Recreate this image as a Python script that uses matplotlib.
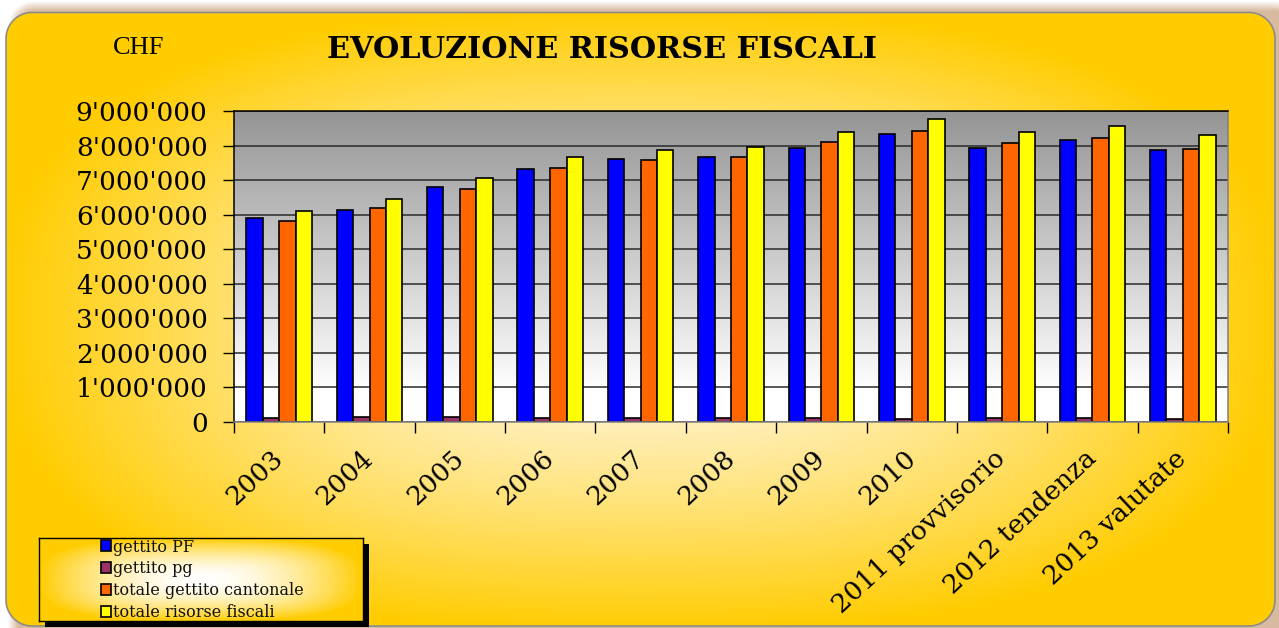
import numpy as np
import matplotlib
matplotlib.use("Agg")
import matplotlib.pyplot as plt
from matplotlib.ticker import FuncFormatter, FixedLocator
from matplotlib.patches import Rectangle

# ---------------- data ----------------
categories = ['2003', '2004', '2005', '2006', '2007', '2008', '2009', '2010',
              '2011 provvisorio', '2012 tendenza', '2013 valutate']
gettito_pf = [5910000, 6130000, 6790000, 7310000, 7620000, 7680000, 7940000,
              8340000, 7940000, 8170000, 7870000]
gettito_pg = [125000, 150000, 145000, 120000, 125000, 130000, 130000,
              100000, 110000, 110000, 100000]
totale_cantonale = [5830000, 6190000, 6750000, 7340000, 7580000, 7660000,
                    8110000, 8420000, 8060000, 8220000, 7890000]
totale_risorse = [6100000, 6450000, 7060000, 7660000, 7870000, 7950000,
                  8400000, 8780000, 8390000, 8570000, 8310000]
series_names = ['gettito PF', 'gettito pg', 'totale gettito cantonale',
                'totale risorse fiscali']
series_colors = ['#0000FF', '#993366', '#FF6600', '#FFFF00']
y_ticks = [0, 1000000, 2000000, 3000000, 4000000, 5000000, 6000000,
           7000000, 8000000, 9000000]

W, H = 1279, 628
fig = plt.figure(figsize=(W / 100, H / 100), dpi=100)
fig.patch.set_facecolor('white')

# ---------------- background (frame with gradient + shadow) ----------------
yy, xx = np.mgrid[0:H, 0:W] + 0.5


def rrect_sd(x0, y0, x1, y1, r):
    cx = np.clip(xx, x0 + r, x1 - r)
    cy = np.clip(yy, y0 + r, y1 - r)
    return np.hypot(xx - cx, yy - cy) - r


img = np.ones((H, W, 3))
tan = np.array([216, 186, 160]) / 255.0
sd_sh = rrect_sd(8, 1, 1300, 650, 26)
a_sh = np.clip(-sd_sh / 10.0, 0, 1)[..., None]
img = img * (1 - a_sh) + tan * a_sh

sd_fr = rrect_sd(6, 12.5, 1275, 626, 26)
a_fr = np.clip(0.5 - sd_fr, 0, 1)[..., None]
gold = np.array([255, 204, 0]) / 255.0
light = np.array([255, 249, 238]) / 255.0
p = 2.6
d = ((np.abs(xx - 640) / 640) ** p + (np.abs(yy - 320) / 310) ** p) ** (1 / p)
t = np.clip(d, 0, 1)[..., None] ** 1.35
grad = light * (1 - t) + gold * t
img = img * (1 - a_fr) + grad * a_fr
a_bd = np.clip(1.3 - np.abs(sd_fr), 0, 1)[..., None]
border = np.array([138, 138, 138]) / 255.0
img = img * (1 - a_bd) + border * a_bd

bg = fig.add_axes([0, 0, 1, 1], zorder=-10)
bg.imshow(img, extent=(0, W, H, 0), interpolation='bilinear', aspect='auto')
bg.set_xlim(0, W)
bg.set_ylim(H, 0)
bg.axis('off')

# ---------------- main axes ----------------
x0p, x1p, y0p, y1p = 234, 1228, 111, 422
ax = fig.add_axes([x0p / W, 1 - y1p / H, (x1p - x0p) / W, (y1p - y0p) / H])
ax.patch.set_alpha(0)

# plot area vertical gradient
gv = np.linspace(0, 1, 256)
gray = np.clip(148 + 107 * gv / 0.9, 0, 255) / 255.0
pa = np.repeat(gray[:, None], 2, axis=1)
pa = np.dstack([pa, pa, pa])
ax.imshow(pa, extent=(0, 1, 0, 1), transform=ax.transAxes, aspect='auto',
          zorder=-1, interpolation='bilinear')

n = len(categories)
x = np.arange(n)
bw = 1 / 5.5
all_series = [gettito_pf, gettito_pg, totale_cantonale, totale_risorse]
handles = []
for k, (vals, col, name) in enumerate(zip(all_series, series_colors, series_names)):
    b = ax.bar(x + (k - 1.5) * bw, vals, width=bw, color=col, edgecolor='black',
               linewidth=1.2, label=name, zorder=3)
    handles.append(b)

ax.set_xlim(-0.5, n - 0.5)
ax.set_ylim(0, 9000000)
ax.set_yticks(y_ticks)
ax.yaxis.set_major_formatter(FuncFormatter(lambda v, pos: f"{int(v):,}".replace(',', "'")))
ax.yaxis.grid(True, color='#2a2a2a', linewidth=1.1)
ax.set_axisbelow(True)

ax.set_xticks(x)
ax.set_xticklabels(categories)
ax.xaxis.set_minor_locator(FixedLocator(np.arange(-0.5, n, 1)))
ax.tick_params(axis='x', which='major', length=0, pad=23.5)
ax.tick_params(axis='x', which='minor', length=8, width=1, color='black', direction='out')
ax.tick_params(axis='y', which='major', length=8, width=1, color='black', direction='out', pad=11)

for lab in ax.get_yticklabels():
    lab.set_fontfamily('DejaVu Serif')
    lab.set_fontsize(19)
for lab in ax.get_xticklabels():
    lab.set_fontfamily('DejaVu Serif')
    lab.set_fontsize(19)
    lab.set_rotation(43)
    lab.set_ha('right')
    lab.set_va('center')
    lab.set_rotation_mode('anchor')

for s in ['left', 'top']:
    ax.spines[s].set_color('black')
for s in ['right', 'bottom']:
    ax.spines[s].set_color('#808080')
for s in ax.spines.values():
    s.set_linewidth(1.1)
    s.set_zorder(4)

# ---------------- titles ----------------
fig.text(602 / W, 1 - 50 / H, 'EVOLUZIONE RISORSE FISCALI', ha='center', va='center',
         fontsize=21.8, fontweight='bold', family='DejaVu Serif')
fig.text(139 / W, 1 - 48 / H, 'CHF', ha='center', va='center',
         fontsize=19, family='Liberation Serif')

# ---------------- legend box ----------------
lx0, lx1, ly0, ly1 = 39, 363, 538, 621
fig.patches.append(Rectangle(((lx0 + 6) / W, 1 - (ly1 + 6) / H), (lx1 - lx0) / W,
                             (ly1 - ly0) / H, transform=fig.transFigure,
                             facecolor='black', edgecolor='none', zorder=1))
lax = fig.add_axes([lx0 / W, 1 - ly1 / H, (lx1 - lx0) / W, (ly1 - ly0) / H], zorder=2)
lw_, lh_ = lx1 - lx0, ly1 - ly0
ly, lxg = np.mgrid[0:lh_, 0:lw_] + 0.5
lp = 3.0
ld = ((np.abs(lxg - lw_ / 2) / (lw_ / 2)) ** lp + (np.abs(ly - lh_ / 2) / (lh_ / 2)) ** lp) ** (1 / lp)
lt = np.clip(ld, 0, 1)[..., None] ** 1.8
lgrad = np.array([1, 1, 1]) * (1 - lt) + gold * lt
lax.imshow(lgrad, extent=(0, 1, 0, 1), aspect='auto', interpolation='bilinear')
lax.set_xticks([])
lax.set_yticks([])
for s in lax.spines.values():
    s.set_color('black')
    s.set_linewidth(1)

leg = lax.legend(handles=handles, labels=series_names, loc='upper left',
                 bbox_to_anchor=(100.5 / W, 1 - 538.5 / H), bbox_transform=fig.transFigure,
                 frameon=False, borderpad=0, borderaxespad=0,
                 handlelength=0.68, handleheight=0.68, handletextpad=0.12,
                 labelspacing=0.3, prop={'family': 'DejaVu Serif', 'size': 11.5})
for txt in leg.get_texts():
    txt.set_color('#111111')

fig.savefig('out.png', dpi=100)
